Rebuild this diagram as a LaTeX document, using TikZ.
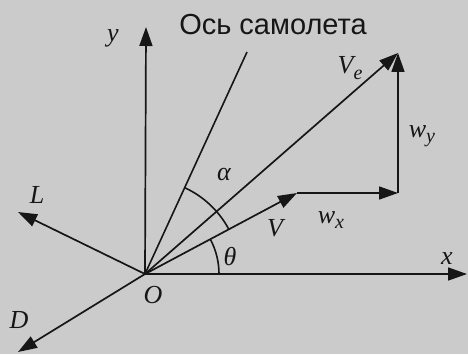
\documentclass[tikz,border=0pt]{standalone}
\usepackage{fontspec}
\newfontfamily\capfont{Liberation Sans}
\newfontfamily\lblfont{Liberation Serif}
\usetikzlibrary{arrows.meta}
\definecolor{paper}{RGB}{203,203,203}
\definecolor{ink}{RGB}{22,22,22}
\newcommand{\lsub}[1]{\raisebox{-0.45ex}{\fontsize{20}{20}\selectfont #1}}

\begin{document}
\begin{tikzpicture}[
    x=1pt, y=1pt,
    >={Triangle[length=19pt,width=13pt]},
    vec/.style={->, line width=1.7pt, draw=ink},
    ln/.style={line width=1.6pt, draw=ink},
    lbl/.style={font=\lblfont\itshape\fontsize{26}{28}\selectfont, text=ink, inner sep=0pt},
    caption/.style={font=\capfont\fontsize{29}{32}\selectfont, text=ink, inner sep=0pt}
  ]
  \fill[paper] (0,0) rectangle (468,354);
  \useasboundingbox (0,0) rectangle (468,354);

  % Points
  \coordinate (O) at (145,80);
  \coordinate (xend) at (467,80);
  \coordinate (yend) at (146,327);
  \coordinate (axisend) at (247,302);
  \coordinate (vend) at (297,161);
  \coordinate (corner) at (398,161);
  \coordinate (veend) at (398,301);
  \coordinate (lend) at (18,142);
  \coordinate (dend) at (18,2);

  % Axes
  \draw[vec] (O) -- (xend);
  \draw[vec] (O) -- (yend);
  \draw[ln] (O) -- (axisend);

  % Velocities
  \draw[vec] (O) -- (vend);
  \draw[vec] (vend) -- (corner);
  \draw[vec] (corner) -- (veend);
  \draw[vec] (O) -- (veend);

  % Forces
  \draw[vec] (O) -- (lend);
  \draw[vec] (O) -- (dend);

  % Angles
  \draw[ln] ([shift={(28:95)}]O) arc[start angle=28, end angle=65, radius=95];
  \draw[ln] ([shift={(0:74)}]O) arc[start angle=0, end angle=28, radius=74];

  % Labels
  \node[caption] (title) at (273,329) {Ось самолета};
  \node[lbl] (ylbl) at (113,316) {y};
  \node[lbl] (xlbl) at (447,95) {x};
  \node[lbl] (olbl) at (153,59) {O};
  \node[lbl] (llbl) at (37,159) {L};
  \node[lbl] (dlbl) at (19,34) {D};
  \node[lbl] (vlbl) at (275,126) {V};
  \node[lbl] (velbl) at (350,286) {V\lsub{e}};
  \node[lbl] (wxlbl) at (331,134) {w\lsub{x}};
  \node[lbl] (wylbl) at (422,218) {w\lsub{y}};
  \node[lbl] (alpha) at (224,179) {α};
  \node[lbl] (theta) at (230,97) {θ};
\end{tikzpicture}
\end{document}
